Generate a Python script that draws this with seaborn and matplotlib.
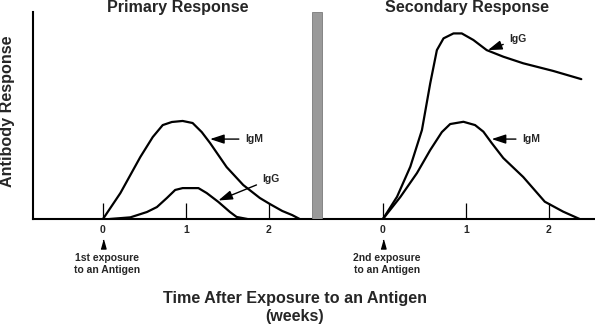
import matplotlib
matplotlib.use("Agg")
import matplotlib.pyplot as plt
import numpy as np
import pandas as pd
import seaborn as sns

# ---------------- data (weeks after exposure, arbitrary antibody response) -------------
prim_igm_weeks = [0, 0.21, 0.45, 0.60, 0.72, 0.83, 0.96, 1.08, 1.19, 1.29, 1.49, 1.69, 1.89, 2.01, 2.16, 2.28, 2.37]
prim_igm_resp = [0, 12.6, 30.1, 39.8, 45.6, 47.1, 47.6, 46.6, 42.2, 36.9, 25.2, 16.5, 10.2, 7.3, 3.9, 1.9, 0]

prim_igg_weeks = [0.08, 0.33, 0.53, 0.65, 0.77, 0.87, 0.96, 1.15, 1.25, 1.39, 1.53, 1.61, 1.74]
prim_igg_resp = [0, 0.8, 3.4, 5.8, 10.2, 14.1, 15.0, 15.0, 12.6, 8.3, 3.4, 1.0, 0]

sec_igm_weeks = [0, 0.21, 0.41, 0.57, 0.71, 0.81, 0.97, 1.11, 1.21, 1.31, 1.45, 1.69, 1.95, 2.17, 2.37]
sec_igm_resp = [0, 10.7, 22.3, 33.5, 42.2, 46.1, 47.2, 45.6, 42.4, 36.9, 29.6, 20.4, 8.4, 3.6, 0]

sec_igg_weeks = [0, 0.17, 0.33, 0.47, 0.57, 0.65, 0.73, 0.85, 0.95, 1.09, 1.25, 1.45, 1.69, 2.05, 2.39]
sec_igg_resp = [0, 10.8, 25.4, 43.2, 65.9, 82.0, 87.7, 90.1, 90.1, 86.9, 82.0, 78.8, 75.6, 71.9, 67.9]

panels = ["Primary Response", "Secondary Response"]
tick_weeks = [0, 1, 2]
tick_labels = ["0", "1", "2"]
exposure_labels = ["1st exposure\nto an Antigen", "2nd exposure\nto an Antigen"]
exposure_week = [0, 0]

# label name, panel index, text position (weeks, response), arrow tip (weeks, response)
annot_names = ["IgM", "IgG", "IgG", "IgM"]
annot_panel = [0, 0, 1, 1]
annot_text_week = [1.71, 1.92, 1.52, 1.675]
annot_text_resp = [38.8, 19.4, 87.4, 38.8]
annot_tip_week = [1.29, 1.39, 1.265, 1.31]
annot_tip_resp = [38.8, 9.0, 82.0, 38.8]

# ---------------- layout constants ----------------
panel_offset = [0.0, 3.373]        # where week 0 of each panel sits on the shared axis
separator = (2.514, 2.635)          # grey divider between the panels
xlim = (-0.843, 5.928)
ylim = (0, 100.5)

rows = []
for panel, name, wk, rs in [(0, "IgM", prim_igm_weeks, prim_igm_resp),
                            (0, "IgG", prim_igg_weeks, prim_igg_resp),
                            (1, "IgM", sec_igm_weeks, sec_igm_resp),
                            (1, "IgG", sec_igg_weeks, sec_igg_resp)]:
    for w, r in zip(wk, rs):
        rows.append({"curve": f"{panels[panel]} {name}", "x": w + panel_offset[panel],
                     "response": r})
df = pd.DataFrame(rows)

sns.set_theme(style="white")
plt.rcParams["font.family"] = ["Liberation Sans", "DejaVu Sans"]

fig = plt.figure(figsize=(5.95, 3.27), dpi=100)
ax = fig.add_axes([33 / 595, 108 / 327, 562 / 595, 207 / 327])

sns.lineplot(data=df, x="x", y="response", units="curve", estimator=None, sort=False,
             color="black", lw=1.6, ax=ax, legend=False)

ax.axvspan(*separator, color="#9a9a9a", lw=0.6, ec="#7a7a7a", zorder=3)

ax.set_xlim(*xlim)
ax.set_ylim(*ylim)
for s in ["top", "right"]:
    ax.spines[s].set_visible(False)
for s in ["left", "bottom"]:
    ax.spines[s].set_color("black")
    ax.spines[s].set_linewidth(1.5)

ticks = [t + off for off in panel_offset for t in tick_weeks]
ax.set_xticks(ticks)
ax.set_xticklabels(tick_labels * len(panel_offset), fontsize=7.5, fontweight="bold")
ax.set_yticks([])
ax.tick_params(axis="x", direction="in", length=11.5, width=0.9, color="black",
               pad=4.5, bottom=True)

ax.set_xlabel("Time After Exposure to an Antigen\n(weeks)", fontsize=11.6,
              fontweight="bold", linespacing=1.3, va="center")
ax.xaxis.set_label_coords((295 - 33) / 562, -0.4275)
ax.set_ylabel("Antibody Response", fontsize=11.6, fontweight="bold", va="center")
ax.yaxis.set_label_coords((8 - 33) / 562, 0.519)

title_week = [0.898, 1.009]
for i, title in enumerate(panels):
    ax.text(title_week[i] + panel_offset[i], 100.3, title, ha="center", va="baseline",
            fontsize=11.6, fontweight="bold", clip_on=False)

tri = [(-0.28, -0.5), (0.28, -0.5), (0, 0.5)]
for i, lab in enumerate(exposure_labels):
    x0 = exposure_week[i] + panel_offset[i]
    ax.plot([x0], [-11.9], marker=tri, markersize=6.5, color="black", clip_on=False, lw=0)
    ax.text(x0 + 0.05, -22.0, lab, ha="center", va="center", fontsize=7.5,
            fontweight="bold", linespacing=1.25, clip_on=False)

for name, p, tw, tr, hw, hr in zip(annot_names, annot_panel, annot_text_week, annot_text_resp,
                                   annot_tip_week, annot_tip_resp):
    off = panel_offset[p]
    ax.annotate(name, xy=(hw + off, hr), xytext=(tw + off, tr), ha="left", va="center",
                fontsize=7.5, fontweight="bold",
                arrowprops=dict(arrowstyle="-|>,head_length=0.85,head_width=0.28",
                                color="black", lw=1.0, mutation_scale=10, shrinkB=0))

fig.savefig("out.png", dpi=100)
